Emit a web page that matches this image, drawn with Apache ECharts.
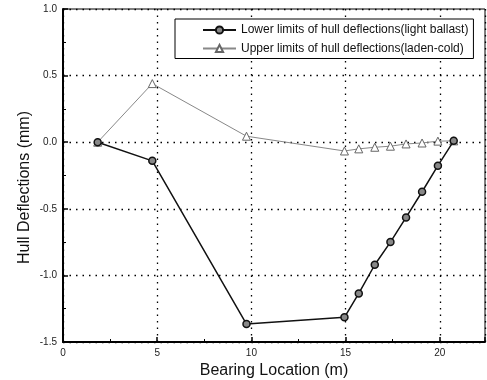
<!DOCTYPE html>
<html><head><meta charset="utf-8">
<script src="https://cdn.jsdelivr.net/npm/echarts@6/dist/echarts.min.js"></script>
<style>html,body{margin:0;padding:0;background:#fff}#c{width:487px;height:380px}</style>
</head><body><div id="c"></div>
<script>
const bearingX = [1.84, 4.74, 9.74, 14.94, 15.7, 16.55, 17.38, 18.21, 19.06, 19.9, 20.74];
const lowerLimits = [0.0, -0.14, -1.365, -1.315, -1.135, -0.92, -0.75, -0.565, -0.372, -0.176, 0.01];
const upperLimits = [0.0, 0.44, 0.045, -0.066, -0.05, -0.038, -0.03, -0.013, -0.006, 0.008, 0.01];
const seriesNames = ['Lower limits of hull deflections(light ballast)', 'Upper limits of hull deflections(laden-cold)'];
const xTitle = 'Bearing Location (m)';
const yTitle = 'Hull Deflections (mm)';

const chart = echarts.init(document.getElementById('c'), null, {renderer: 'canvas'});
const font = 'Arial, "Liberation Sans", sans-serif';
chart.setOption({
  animation: false,
  backgroundColor: '#fff',
  grid: {left: 63, right: 2, top: 9, bottom: 38, show: true, borderColor: '#000', borderWidth: 1, outerBoundsMode: 'none', containLabel: false},
  legend: {
    orient: 'vertical', left: 175, top: 19,
    padding: [5, 5, 4, 27], itemGap: 6.5, itemWidth: 33, itemHeight: 9,
    borderColor: '#000', borderWidth: 1, backgroundColor: '#fff',
    textStyle: {fontFamily: font, fontSize: 12, color: '#111', lineHeight: 12},
    data: seriesNames
  },
  xAxis: {
    type: 'value', min: 0, max: 22.4, interval: 5,
    name: xTitle, nameLocation: 'middle', nameGap: 20,
    nameTextStyle: {fontFamily: font, fontSize: 16, color: '#111'},
    axisLine: {show: true, onZero: false, lineStyle: {color: '#000', width: 2}},
    axisTick: {inside: true, length: 5, lineStyle: {color: '#000', width: 1.5}},
    minorTick: {show: true, splitNumber: 2, length: 3, lineStyle: {color: '#000'}},
    axisLabel: {fontFamily: font, fontSize: 10, color: '#222', margin: 6, showMaxLabel: false},
    splitLine: {show: true, lineStyle: {color: '#000', type: [1.5, 5], width: 1.3}}
  },
  yAxis: {
    type: 'value', min: -1.5, max: 1.0, interval: 0.5,
    name: yTitle, nameLocation: 'middle', nameGap: 30, nameRotate: 90, nameMoveOverlap: false,
    nameTextStyle: {fontFamily: font, fontSize: 16, color: '#111', padding: [0, 24, 0, 0]},
    axisLine: {show: true, lineStyle: {color: '#000', width: 2}},
    axisTick: {inside: true, length: 5, lineStyle: {color: '#000', width: 1.5}},
    minorTick: {show: true, splitNumber: 2, length: 3, lineStyle: {color: '#000'}},
    axisLabel: {fontFamily: font, fontSize: 10, color: '#222', margin: 6, formatter: v => v.toFixed(1)},
    splitLine: {show: true, lineStyle: {color: '#000', type: [1.5, 5], width: 1.3}}
  },
  series: [
    {
      name: seriesNames[0], type: 'line', z: 3,
      data: bearingX.map((x, i) => [x, lowerLimits[i]]),
      lineStyle: {color: '#111', width: 1.5},
      symbol: 'circle', symbolSize: 7,
      itemStyle: {color: '#888', borderColor: '#111', borderWidth: 1.5}
    },
    {
      name: seriesNames[1], type: 'line', z: 2,
      data: bearingX.map((x, i) => [x, upperLimits[i]]),
      lineStyle: {color: '#888', width: 1},
      symbol: 'triangle', symbolSize: 8,
      itemStyle: {color: '#fff', borderColor: '#666', borderWidth: 1}
    }
  ]
});
</script></body></html>
